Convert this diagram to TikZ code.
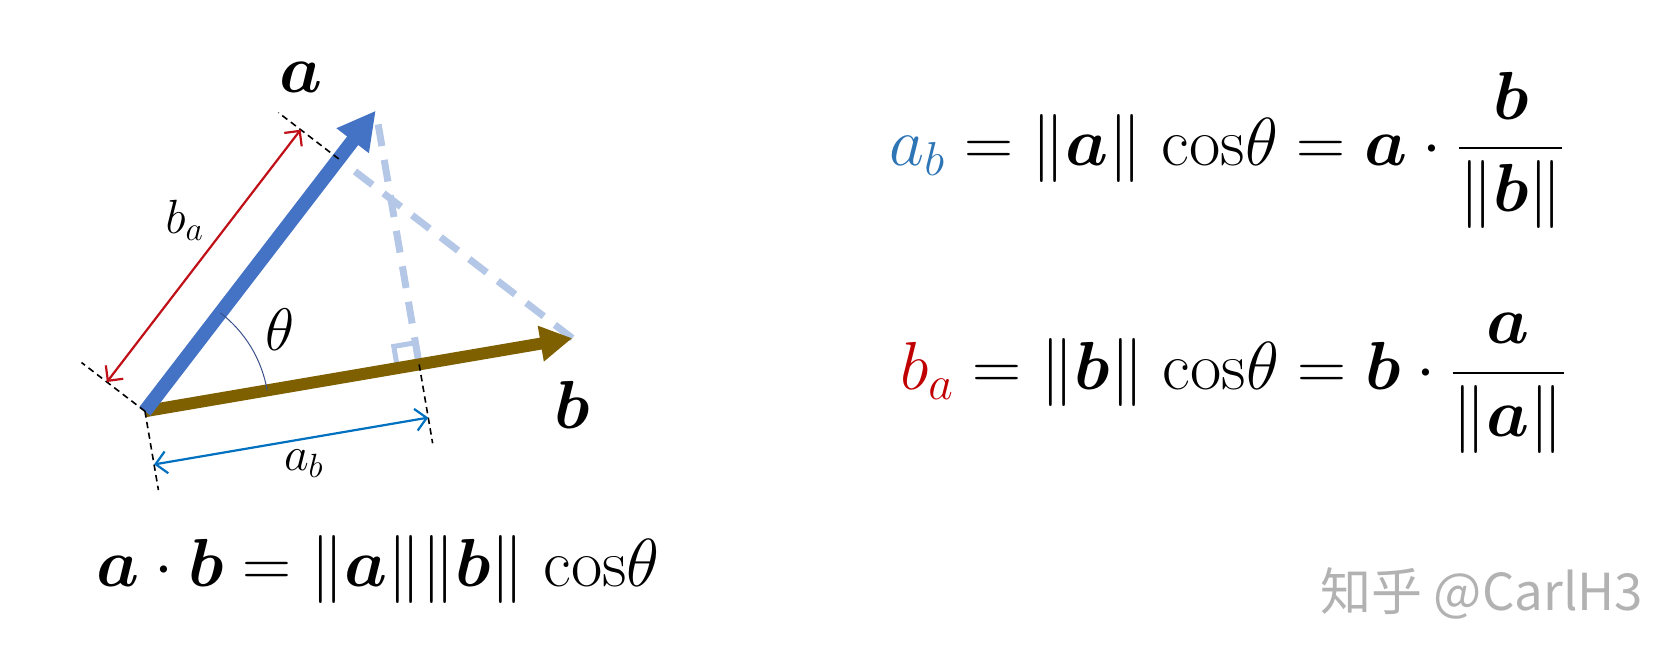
\RequirePackage{fix-cm}
\documentclass[tikz,border=0pt]{standalone}
\usepackage{amsmath,bm}
\usepackage{fontspec}
\newfontfamily\cjkfont{Noto Sans CJK SC}
\usetikzlibrary{angles,quotes,calc,arrows.meta}
\definecolor{VecBlue}{RGB}{68,114,196}
\definecolor{VecBrown}{RGB}{127,96,0}
\definecolor{ProjBlue}{RGB}{180,199,231}
\definecolor{DimRed}{RGB}{192,16,24}
\definecolor{DimBlue}{RGB}{0,112,192}
\definecolor{EqBlue}{RGB}{46,117,182}
\definecolor{EqRed}{RGB}{192,0,0}
\definecolor{ArcBlue}{RGB}{60,80,140}
\definecolor{WmGray}{RGB}{178,178,178}
\newcommand\eqsize{\fontsize{34}{40}\selectfont}
\newcommand\costh{\;{\cos}\theta}
\tikzset{
  vecA/.style={draw=VecBlue, line width=7pt, -{Triangle[length=19pt,width=19pt]}},
  vecB/.style={draw=VecBrown, line width=6pt, -{Triangle[length=16pt,width=17pt]}},
  proj/.style={draw=ProjBlue, line width=3.5pt, dash pattern=on 11pt off 7pt},
  rightmark/.style={draw=ProjBlue, line width=2.5pt},
  extline/.style={draw=black, line width=0.8pt, dash pattern=on 3.2pt off 2.2pt},
  dimred/.style={draw=DimRed, line width=1.1pt, {Straight Barb[length=5.5pt,width=11pt]}-{Straight Barb[length=5.5pt,width=11pt]}},
  dimblue/.style={draw=DimBlue, line width=1.1pt, {Straight Barb[length=5.5pt,width=11pt]}-{Straight Barb[length=5.5pt,width=11pt]}},
  veclabel/.style={font=\fontsize{34}{40}\selectfont, inner sep=0pt},
  dimlabel/.style={font=\fontsize{24}{28}\selectfont, inner sep=0pt},
  eq/.style={font=\eqsize, inner sep=0pt},
  wmark/.style={text=WmGray, font=\fontsize{25.5}{30}\selectfont\cjkfont, inner sep=0pt}
}
\begin{document}
\begin{tikzpicture}[x=0.537pt, y=-0.537pt]
  \useasboundingbox (0,0) rectangle (1560,612);
  \coordinate (O) at (135,383);
  \coordinate (A) at (350,103);
  \coordinate (B) at (533,315);
  \coordinate (H) at ($(O)!(A)!(B)$);
  \coordinate (K) at ($(O)!(B)!(A)$);
  % projections
  \draw[proj] ($(A)!7pt!(H)$) -- (H);
  \draw[proj] (B) -- (K);
  \coordinate (H1) at ($(H)!11pt!(O)$);
  \coordinate (H3) at ($(H)!11pt!(A)$);
  \draw[rightmark] (H1) -- ($(H1)+(H3)-(H)$) -- (H3);
  % vectors
  \draw[vecB] (O) -- (B);
  \draw[vecA] (O) -- (A);
  \pic[draw=ArcBlue, line width=0.5pt, angle radius=62pt, angle eccentricity=1.27,
       font=\fontsize{30}{34}\selectfont, "$\theta$"]{angle=B--O--A};
  % extension lines
  \draw[extline] (O) -- ($(O)!40pt!90:(A)$);
  \draw[extline] (K) -- ($(K)!38pt!-90:(O)$);
  \draw[extline] (O) -- ($(O)!40pt!-90:(B)$);
  \draw[extline] (H) -- ($(H)!40pt!90:(O)$);
  % projection lengths
  \draw[dimred] ($(O)!24pt!90:(A)$) -- ($(K)!24pt!-90:(O)$);
  \draw[dimblue] ($(O)!27pt!-90:(B)$) -- ($(H)!27pt!90:(O)$);
  % labels
  \node[veclabel] (la) at (280,72) {$\bm{a}$};
  \node[veclabel] (lb) at (533,377) {$\bm{b}$};
  \node[dimlabel] (lba) at (172,205) {$b_a$};
  \node[dimlabel] (lab) at (283,432) {$a_b$};
  % formulas
  \node[eq] (dot) at (352,530) {$\bm{a}\cdot\bm{b} = \|\bm{a}\|\|\bm{b}\|\costh$};
  \node[eq, anchor=west] (eqab) at (828,140)
    {$\displaystyle \textcolor{EqBlue}{a_b} = \|\bm{a}\|\costh = \bm{a}\cdot\frac{\bm{b}}{\|\bm{b}\|}$};
  \node[eq, anchor=west] (eqba) at (838,357)
    {$\displaystyle \textcolor{EqRed}{b_a} = \|\bm{b}\|\costh = \bm{b}\cdot\frac{\bm{a}}{\|\bm{a}\|}$};
  \node[wmark] (wm) at (1380,553) {知乎 @CarlH3};
\end{tikzpicture}
\end{document}
